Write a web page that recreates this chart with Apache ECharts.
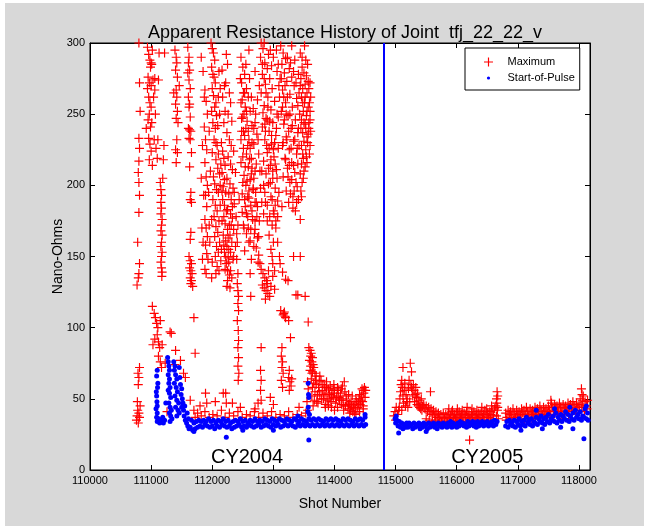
<!DOCTYPE html>
<html>
<head>
<meta charset="utf-8">
<title>Apparent Resistance History of Joint tfj_22_22_v</title>
<script src="https://cdn.jsdelivr.net/npm/echarts@6/dist/echarts.min.js"></script>
<style>
  html, body { margin: 0; padding: 0; background: #ffffff; }
  #frame { position: absolute; left: 5px; top: 3px; width: 639px; height: 523px; background: #d8d8d8; }
  #chart { position: absolute; left: 0; top: 0; width: 649px; height: 529px; }
</style>
</head>
<body>
<div id="frame"></div>
<div id="chart"></div>
<script>
// Axis ticks
const shotTicks = [110000, 111000, 112000, 113000, 114000, 115000, 116000, 117000, 118000];
const ohmTicks = [0, 50, 100, 150, 200, 250, 300];

// Campaign boundary (shot number) and campaign labels
const campaignBoundary = 114800;
const campaignLabels = [
  { name: 'CY2004', shot: 112570, value: 9 },
  { name: 'CY2005', shot: 116500, value: 9 }
];

// Maximum apparent resistance, CY2004 [shot, nano-ohms]
const maximum2004 = [
  [110760,35],[110770,38],[110780,42],[110790,33],[110800,40],[110810,37],[110820,45],[110775,48],
  [110790,60],[110800,65],[110810,72],[110785,68],[110770,130],[110790,135],[110800,138],[110810,145],
  [110780,160],[110800,181],[110810,193],[110800,202],[110790,209],[110800,217],[110810,226],[110800,233],
  [110820,252],[110810,272],[110800,300],
  [110940,297],[110960,292],[110980,288],[111000,286],[111010,285],[110990,283],[111020,295],[110950,276],
  [110970,272],[111000,270],[111030,274],[110940,268],[110960,262],[110980,258],[111000,255],[110970,250],
  [110950,246],[111010,244],[111040,262],[111060,267],[110990,241],[110960,233],[110980,229],[111000,224],
  [110970,218],[111020,214],[111050,232],[111080,226],[111100,219],[111060,275],[111110,232],[110920,240],
  [111130,293],[111120,274],[111070,250],
  [111020,115],[111050,110],[111070,107],[111090,103],[111110,100],[111100,95],[111060,92],[111120,90],
  [111030,88],[111140,86],[111150,105],[111120,80],[111150,76],[111170,72],[111180,88],
  [111150,202],[111160,197],[111170,193],[111160,188],[111170,184],[111160,180],[111180,176],[111170,172],
  [111160,168],[111180,165],[111170,160],[111160,157],[111180,153],[111170,150],[111160,146],[111170,142],
  [111180,139],[111175,136],[111190,205],[111200,218],[111210,228],[111220,293],
  [111390,295],[111410,290],[111420,286],[111400,281],[111430,276],[111410,267],[111420,262],[111400,257],
  [111430,252],[111410,247],[111440,244],[111420,232],[111400,225],[111430,223],[111410,216],[111460,270],
  [111370,265],
  [111330,96],[111400,84],[111480,77],[111390,74],[111530,68],[111560,65],[111640,49],[111700,42],
  [111720,37],[111260,41],[111310,97],[111230,75],
  [111600,297],[111620,290],[111610,286],[111630,281],[111600,279],[111620,274],[111640,268],[111610,262],
  [111630,257],[111620,255],[111640,248],[111610,240],[111630,239],[111650,238],[111620,233],[111640,232],
  [111660,223],[111630,213],[111650,195],[111640,190],[111660,188],[111650,167],[111640,162],
  [111620,150],[111640,147],[111660,145],[111630,142],[111650,140],[111670,138],[111640,135],[111660,133],
  [111650,131],[111680,129],[111700,107],[111720,82],
  [111880,267],[111900,259],[111870,241],[111890,232],[111910,225],[111880,216],[111900,206],[111920,200],
  [111890,193],[111910,185],[111880,176],[111900,170],[111920,164],[111890,158],[111910,152],[111930,148],
  [111880,141],[111900,138],[111850,160],[111830,170],[111950,172],[111940,195],[111890,54],[111910,47],
  [111820,290],[111850,280],[111870,262],[111920,250],[111950,238],[111840,228],[111970,210],[111990,176],
  [111960,160],[112000,146],[111990,135],[111840,148],[111860,193],[111820,205],
  [111980,300],[112000,296],[112020,293],[112040,288],[111990,283],[112010,278],[112030,276],[112050,272],
  [112000,268],[112020,263],[112060,258],[112040,255],[111990,252],[112070,249],[112010,244],[112050,240],
  [112030,232],[112080,228],[112000,223],[112060,218],[112090,212],[112020,206],[112040,201],[112070,197],
  [112100,195],[112010,190],[112050,186],[112080,182],[112030,178],[112110,175],[112060,171],[112090,167],
  [112040,164],[112120,160],[112070,157],[112100,153],[112050,150],[112140,147],[112080,143],[112110,140],
  [112060,138],[112150,155],
  [112060,230],[112090,242],[112120,250],[112100,222],[112130,200],[112160,175],[112190,158],[112220,150],
  [112250,140],[112270,155],[112290,165],[112310,172],[112330,185],[112360,195],[112390,178],[112410,160],
  [112400,148],
  [112150,230],[112170,224],[112190,219],[112210,214],[112160,209],[112200,204],[112180,199],[112220,195],
  [112170,190],[112200,186],[112230,182],[112190,178],[112210,173],[112250,169],[112180,165],[112220,161],
  [112240,157],[112200,153],[112260,149],[112230,145],[112210,141],[112280,137],[112250,133],[112240,129],
  [112270,146],[112160,196],[112130,186],[112120,208],[112140,215],[112300,140],[112320,135],[112340,148],
  [112190,244],[112210,252],[112170,262],[112200,270],[112160,281],[112130,268],[112100,262],[112110,280],
  [112230,292],[112250,285],[112220,272],[112280,265],[112300,258],[112260,250],[112320,245],[112240,237],
  [112280,232],[112310,228],[112350,224],[112260,220],[112300,215],[112330,211],[112380,209],[112240,205],
  [112290,201],[112340,198],[112270,194],[112310,190],[112360,187],[112250,183],[112300,180],[112330,177],
  [112280,172],[112350,169],[112400,166],[112260,163],[112320,160],[112380,157],[112300,153],[112350,150],
  [112420,172],[112440,190],
  [112420,138],[112410,131],[112420,126],[112430,122],[112420,117],[112430,112],[112410,105],[112425,98],
  [112430,91],[112420,86],[112430,79],[112420,73],[112435,68],[112425,63],[112290,128],[112220,54],
  [112230,47],[112330,47],
  [112470,290],[112500,283],[112530,278],[112480,272],[112560,268],[112510,265],[112590,262],[112470,258],
  [112540,255],[112620,252],[112500,248],[112570,245],[112650,242],[112480,238],[112530,235],[112600,232],
  [112680,229],[112510,226],[112560,222],[112640,219],[112470,216],[112590,213],[112700,210],[112520,207],
  [112620,204],[112550,200],[112670,197],[112490,194],[112600,191],[112720,188],[112540,185],[112650,182],
  [112580,178],[112700,175],[112510,172],[112630,169],[112560,166],[112740,163],[112600,160],[112680,157],
  [112530,154],[112760,151],[112640,148],[112620,138],[112630,122],[112700,169],[112760,164],
  [112460,275],[112490,260],[112520,250],[112550,240],[112580,228],[112610,218],[112640,208],[112670,198],
  [112700,188],[112730,178],[112480,247],[112510,238],[112540,213],[112570,203],[112600,196],[112630,186],
  [112660,176],[112690,166],[112720,156],[112750,146],[112500,220],[112530,190],[112560,180],[112590,170],
  [112620,161],[112650,230],[112680,240],[112710,250],[112740,260],[112770,270],[112550,285],[112600,295],
  [112700,280],[112750,232],[112720,215],
  [112470,232],[112500,202],[112530,265],[112560,252],[112590,238],[112620,226],[112650,212],[112680,205],
  [112710,195],[112740,185],[112770,175],[112490,181],[112520,170],[112580,192],[112610,275],[112640,262],
  [112670,254],[112700,244],[112730,236],[112760,222],[112780,210],[112790,198],
  [112800,300],[112830,296],[112790,290],[112860,286],[112900,282],[112820,278],[112940,275],[112870,271],
  [112980,268],[112800,265],[112910,262],[113020,259],[112850,256],[112960,253],[113060,250],[112880,247],
  [112990,244],[112820,241],[112930,238],[113040,235],[112860,232],[112970,229],[113080,226],[112900,223],
  [113010,220],[112840,217],[112950,214],[113050,211],[112880,208],[112990,205],[112920,201],[113030,198],
  [112860,195],[112960,192],[113070,189],[112900,186],[113000,182],[112940,178],[113040,175],[112980,172],
  [112820,285],[112850,275],[112880,265],[112910,255],[112940,245],[112970,235],[113000,225],[113030,215],
  [113060,205],[113090,195],[112830,251],[112860,243],[112890,228],[112920,212],[112950,202],[112980,190],
  [113010,180],[113040,170],[113070,160],[113100,150],[112810,210],[112840,200],[112870,188],[112900,175],
  [112930,165],[112960,155],[112990,145],[113020,140],[113050,295],[113080,285],[112920,292],[112970,284],
  [112810,188],[112840,180],[112870,238],[112900,246],[112930,226],[112960,218],[112990,210],[113020,230],
  [113050,240],[113080,248],[113100,262],[113110,275],[112850,300],[112950,295],[113000,290],[113060,280],
  [113090,270],[113030,186],[113070,178],
  [112800,141],[112830,138],[112860,135],[112890,133],[112820,130],[112850,128],[112880,126],[112910,124],
  [112940,122],[112870,120],[112900,131],[112960,129],[112990,136],[113020,127],[112920,140],[112780,145],
  [113000,160],[112980,150],
  [112800,86],[112790,70],[112800,63],[112790,56],[112800,49],[112950,51],[112750,47],
  [113120,298],[113160,293],[113200,289],[113140,285],[113260,282],[113180,279],[113300,276],[113220,273],
  [113340,270],[113150,267],[113270,264],[113380,261],[113200,258],[113310,255],[113130,252],[113240,249],
  [113360,246],[113170,243],[113290,240],[113400,237],[113210,234],[113330,231],[113150,228],[113260,225],
  [113380,222],[113190,219],[113300,216],[113230,212],[113350,209],[113160,206],[113270,202],[113390,199],
  [113210,196],[113320,192],[113250,188],[113140,185],[113360,182],
  [113130,275],[113170,262],[113210,250],[113250,238],[113290,226],[113330,214],[113370,202],[113410,190],
  [113160,230],[113200,218],[113240,206],[113280,194],[113320,184],[113230,290],[113300,298],[113350,288],
  [113410,278],[113420,265],[113430,250],[113410,240],[113420,228],[113400,215],[113440,208],
  [113150,255],[113180,246],[113220,232],[113260,214],[113300,204],[113340,196],[113380,188],[113190,270],
  [113230,262],[113270,250],[113310,242],[113350,232],[113390,226],[113280,286],[113330,280],[113370,272],
  [113400,256],
  [113110,145],[113150,139],[113200,134],[113120,112],[113160,109],[113200,107],[113180,111],[113250,105],
  [113140,86],[113130,80],[113150,76],[113140,72],[113160,68],[113130,63],[113150,58],[113250,65],
  [113270,62],[113290,59],[113260,56],[113300,64],[113280,93],[113240,133],[113370,123],[113400,123],
  [113330,150],[113260,70],[113170,110],[113190,108],
  [113440,293],[113470,283],[113500,279],[113450,275],[113520,271],[113480,268],[113550,265],[113460,262],
  [113510,258],[113570,255],[113490,252],[113540,249],[113460,246],[113520,243],[113580,240],[113480,237],
  [113550,234],[113500,231],[113460,228],[113530,225],[113590,222],[113490,219],[113550,216],[113470,202],
  [113450,196],[113460,192],[113440,176],[113440,150],[113520,122],[113570,104],
  [113480,258],[113500,244],[113520,262],[113540,277],[113560,285],[113580,268],[113600,252],[113610,238],
  [113600,228],[113500,210],[113530,240],[113560,230],[113580,244],[113590,258],[113470,290],[113510,298],
  [113480,222],[113520,213],[113550,252],[113570,273],[113440,270],
  [113460,215],[113490,205],[113540,220],[113570,236],[113600,246],[113610,262],[113600,272],[113450,240],
  [113530,288],
  [113580,86],[113600,84],[113620,82],[113610,80],[113640,79],[113590,77],[113630,76],[113650,74],
  [113610,73],[113660,72],[113600,70],[113640,69],[113680,68],[113560,62],[113570,57],[113550,48],
  [113560,42],
  [113620,64],[113640,58],[113660,61],[113680,55],[113700,60],[113720,53],[113740,58],[113760,52],
  [113780,63],[113800,56],[113820,50],[113840,59],[113860,54],[113880,49],[113900,57],[113920,53],
  [113940,48],[113960,56],[113980,51],[114000,54],[114020,47],[114040,52],[114060,56],[114080,49],
  [114100,54],[114120,46],[114140,50],[114160,62],[114180,45],[114200,49],[114220,43],[114240,47],
  [114260,42],[114280,45],[114300,41],[114320,46],[114340,43],[114360,48],[114380,44],[114400,50],
  [114420,46],[114440,52],[114460,48],[114480,54],[114500,51],[114510,56],[113650,45],[113730,47],
  [113850,44],[114000,42],[113700,66],[113760,66],[113900,45],[114450,57],
  [113630,52],[113670,49],[113710,48],[113750,55],[113790,50],[113830,53],[113870,58],[113910,50],
  [113950,52],[113990,57],[114030,50],[114070,51],[114110,49],[114150,45],[114190,52],[114230,46],
  [114270,48],[114310,44],[114350,40],[114390,47],[114430,49],[114470,45],[114490,58],
  [113630,68],[113690,63],[113750,62],[113810,60],[113870,62],[113930,59],[113990,60],[114050,58],
  [114110,57],[114170,55],[114230,53],[114290,52],[114350,50],[114410,53],[114470,56],[114130,59],
  [113850,46],[113950,44],[114050,44],[114150,42],[114250,40],[114330,39],[114410,41],[114470,43],
  [111760,40],[111820,38],[111880,41],[111950,37],[112010,39],[112080,38],[112150,42],[112210,37],
  [112280,40],[112350,38],[112420,41],[112490,37],[112560,39],[112620,38],[112690,41],[112760,37],
  [112830,40],[112900,38],[112970,41],[113040,37],[113110,39],[113180,38],[113250,41],[113320,37],
  [113390,39],[113460,38],[113530,40],[111800,45],[112050,48],[112180,54],[112460,44],[112700,43],
  [113000,46],[113420,44]
];

// Maximum apparent resistance, CY2005 [shot, nano-ohms]
const maximum2005 = [
  [114970,38],[114990,41],[115000,35],[115010,44],[115030,39],[115050,42],
  [115070,50],[115080,55],[115090,60],[115100,63],[115110,58],[115120,52],[115130,47],[115140,56],
  [115150,61],[115160,45],[115170,53],[115180,48],[115100,42],[115120,72],[115060,44],
  [115190,50],[115210,57],[115220,63],[115230,48],[115200,44],[115290,60],[115330,58],[115370,45],
  [115410,43],
  [115240,75],[115260,69],[115250,60],[115270,56],[115280,52],[115260,58],
  [115300,56],[115320,53],[115340,51],[115360,54],[115380,49],[115400,47],[115420,50],[115440,45],
  [115310,48],[115350,46],[115390,44],[115430,42],
  [115460,46],[115480,43],[115500,45],[115520,41],[115540,44],[115560,40],[115580,43],[115600,39],
  [115620,42],[115640,38],[115660,41],[115680,37],[115700,40],[115720,36],[115740,39],[115760,37],
  [115780,40],[115800,36],[115820,39],[115840,37],[115570,55],
  [115860,40],[115880,36],[115900,38],[115920,41],[115940,37],[115960,39],[115980,36],[116000,40],
  [116020,38],[116040,41],[116060,37],[116080,39],[116100,36],[116120,40],[116140,38],[116160,41],
  [116180,37],[116200,39],[116220,36],[116240,40],[116260,38],[116280,41],[116300,37],[116320,39],
  [116340,36],[116360,40],[116380,38],[116400,41],[116420,37],[116440,39],[116460,42],[116480,38],
  [116500,40],[116520,37],[116540,41],[116560,39],[116580,42],[116600,38],[116620,43],[116210,21],
  [115500,36],[115550,35],[115600,34],[115650,35],[115700,33],[115750,34],[115800,35],[115850,34],
  [115900,33],[115950,35],[116000,34],[116050,35],[116100,33],[116150,34],[116200,35],[116250,34],
  [116300,33],[116350,35],[116400,34],[116450,35],[116500,34],[116550,36],[116600,35],
  [115870,43],[115930,42],[116010,43],[116090,42],[116170,44],[116250,43],[116330,42],[116410,44],
  [116490,43],[116570,45],
  [116640,45],[116650,50],[116660,55],[116670,52],[116655,47],[116665,42],[116650,38],[116670,44],
  [116680,36],
  [116800,40],[116820,37],[116840,42],[116860,39],[116880,41],[116900,38],[116920,43],[116940,40],
  [116960,37],[116980,42],[117000,39],[117020,41],[117040,38],[117060,43],[117080,40],[117100,42],
  [117120,39],[117140,44],[117160,41],[117180,38],[117200,43],[117220,40],[117240,42],[117260,39],
  [117280,44],[117300,41],[117320,43],[117340,40],[117360,45],[117380,42],[117400,39],[117420,44],
  [117440,41],[117460,43],[117480,40],[117500,45],[117520,42],[117540,49],[117550,47],[117560,44],
  [117580,41],[117600,46],[117620,43],[117640,45],[117660,42],[117680,47],[117700,44],[117720,41],
  [117740,46],[117760,43],[117780,45],[117800,42],[117820,47],[117840,44],[117860,46],[117880,43],
  [117900,48],[117920,45],[117940,42],[117960,47],[117980,44],[118000,46],[118020,50],
  [116810,35],[116870,36],[116930,35],[116990,37],[117050,36],[117110,35],[117170,37],[117230,36],
  [117290,38],[117350,37],[117410,38],[117470,37],[117530,39],[117590,38],[117650,40],[117710,39],
  [117770,40],[117830,39],[117890,41],[117950,40],[118010,42],[118090,41],[118130,43],
  [118040,57],[118050,53],[118060,49],[118045,45],[118070,52],[118100,48],[118120,45],[118140,49],
  [118080,44]
];

// Start-of-pulse apparent resistance, CY2004 [shot, nano-ohms]
const startOfPulse2004 = [
  [111090,52],[111095,48],[111100,45],[111085,55],[111100,40],[111090,37],[111100,34],[111110,36],
  [111080,43],[111100,70],[111090,66],[111110,61],[111105,58],[111120,36],[111140,33],[111150,35],
  [111170,34],[111190,37],[111200,33],[111220,35],[111240,47],
  [111270,79],[111280,76],[111290,73],[111300,70],[111280,67],[111300,64],[111290,61],[111310,58],
  [111280,56],[111300,54],[111320,51],[111290,47],[111310,44],[111330,42],[111300,40],[111320,38],
  [111340,36],[111310,34],
  [111370,76],[111390,73],[111380,70],[111400,67],[111420,64],[111380,61],[111410,58],[111430,55],
  [111390,52],[111420,49],[111450,47],[111400,44],[111440,42],[111460,40],[111420,38],[111470,65],
  [111460,72],[111480,60],[111500,57],[111490,53],[111510,50],[111520,47],[111500,44],[111530,42],
  [111550,45],[111540,38],[111560,35],[111580,33],[111600,31],[111620,29],[111610,36],[111590,40],
  [111640,30],[111680,28],[111720,29],[111760,30],[111800,31],[111840,30],[111880,32],[111920,31],
  [111960,30],[112000,31],[112040,29],[112080,31],[112120,30],[112160,32],[112200,31],[112240,30],
  [112280,31],[112320,29],[112360,30],[112400,31],[112440,32],[112480,30],[112520,31],[112560,30],
  [112600,32],[112640,31],[112680,30],[112720,31],[112760,32],[112800,30],[112840,31],[112880,32],
  [112920,31],[112960,30],[113000,32],[113040,31],[113080,32],[113120,30],[113160,31],[113200,32],
  [113240,31],[113280,32],[113320,31],[113360,30],[113400,32],[113440,31],[113480,32],[113520,31],
  [113560,32],[113600,31],[113640,32],[113680,31],[113720,32],[113760,31],[113800,32],[113840,31],
  [113880,32],[113920,31],[113960,32],[114000,31],[114040,32],[114080,31],[114120,32],[114160,31],
  [114200,32],[114240,31],[114280,32],[114320,31],[114360,32],[114400,31],[114440,32],[114480,31],
  [114510,32],
  [111660,35],[111700,33],[111740,34],[111780,35],[111820,34],[111860,35],[111900,34],[111940,36],
  [111980,34],[112020,35],[112060,33],[112100,35],[112140,34],[112180,36],[112220,34],[112260,35],
  [112300,33],[112340,34],[112380,35],[112420,34],[112460,36],[112500,34],[112540,35],[112580,33],
  [112620,35],[112660,34],[112700,36],[112740,34],[112780,35],[112820,34],[112860,36],[112900,35],
  [112940,34],[112980,36],[113020,35],[113060,34],[113100,36],[113140,35],[113180,34],[113220,36],
  [113260,35],[113300,34],[113340,36],[113380,35],[113420,34],[113460,36],[113500,35],[113540,34],
  [113580,36],[113620,35],[113660,36],[113700,35],[113740,36],[113780,35],[113820,34],[113860,36],
  [113900,35],[113940,36],[113980,35],[114020,36],[114060,35],[114100,34],[114140,36],[114180,35],
  [114220,36],[114260,35],[114300,34],[114340,36],[114380,35],[114420,36],[114460,35],[114500,37],
  [112230,23],[113580,21],[113570,61],[113575,53],[113580,51],[113570,44],[113565,41],[113590,39],
  [113400,38],[114500,39],[111700,27],[112500,28],[113000,28]
];

// Start-of-pulse apparent resistance, CY2005 [shot, nano-ohms]
const startOfPulse2005 = [
  [114990,36],[115000,33],[115010,38],[115020,35],[115040,31],[115060,34],[115080,30],[115100,33],
  [115120,29],[115140,32],[115160,30],[115180,33],
  [115200,30],[115240,31],[115280,29],[115320,30],[115360,31],[115400,29],[115440,30],[115480,31],
  [115520,29],[115560,30],[115600,31],[115640,30],[115680,29],[115720,31],[115760,30],[115800,31],
  [115840,30],[115880,31],[115920,30],[115960,31],[116000,30],[116040,31],[116080,32],[116120,31],
  [116160,30],[116200,31],[116240,32],[116280,31],[116320,30],[116360,31],[116400,32],[116440,31],
  [116480,32],[116520,31],[116560,32],[116600,31],[116640,32],
  [115220,33],[115260,32],[115300,33],[115340,32],[115380,33],[115420,32],[115460,33],[115500,32],
  [115540,33],[115580,32],[115620,33],[115660,32],[115700,33],[115740,32],[115780,33],[115820,32],
  [115860,33],[115900,34],[115940,33],[115980,32],[116020,33],[116060,34],[116100,33],[116140,32],
  [116180,34],[116220,33],[116260,34],[116300,33],[116340,34],[116380,33],[116420,34],[116460,33],
  [116500,34],[116540,33],[116580,34],[116620,35],[116660,34],
  [115050,26],[115500,27],
  [116800,31],[116840,30],[116880,32],[116920,31],[116960,30],[117000,32],[117040,31],[117080,32],
  [117120,31],[117160,33],[117200,32],[117240,31],[117280,33],[117320,32],[117360,34],[117400,33],
  [117440,32],[117480,34],[117520,33],[117560,35],[117600,34],[117640,33],[117680,35],[117720,34],
  [117760,36],[117800,35],[117840,34],[117880,36],[117920,35],[117960,37],[118000,36],[118040,35],
  [118080,37],[118120,36],[118150,35],
  [116820,34],[116860,35],[116900,33],[116940,35],[116980,34],[117020,36],[117060,34],[117100,35],
  [117140,37],[117180,35],[117220,36],[117260,34],[117300,37],[117340,36],[117380,38],[117420,36],
  [117460,37],[117500,39],[117540,36],[117580,38],[117620,40],[117660,37],[117700,39],[117740,38],
  [117780,41],[117820,39],[117860,38],[117900,40],[117940,42],[117980,39],[118020,41],[118060,38],
  [118100,43],[118140,40],
  [117050,28],[117400,29],[117700,30],[117900,29],[118080,22],[117300,42],[117600,43],[117850,44],
  [118120,45]
];

const FONT = '"Liberation Sans", Arial, sans-serif';
// plus marker with slightly heavier strokes
const PLUS = 'path://M4.35 0h1.3v4.35h4.35v1.3h-4.35v4.35h-1.3v-4.35h-4.35v-1.3h4.35z';
// small dot centred in a 9x9 box for the legend
const DOT_ICON = 'path://M0 0M9 9M4.5 2.9a1.6 1.6 0 1 0 0.001 0z';

const chart = echarts.init(document.getElementById('chart'), null, { renderer: 'canvas' });

const xMin = shotTicks[0];
const xMax = 118180;
const yMin = ohmTicks[0];
const yMax = ohmTicks[ohmTicks.length - 1];

function xAxisDef(showLabels) {
  return {
    type: 'value', min: xMin, max: xMax, interval: 1000,
    position: showLabels ? 'bottom' : 'top',
    name: showLabels ? 'Shot Number' : '',
    nameLocation: 'middle', nameGap: 27, nameMoveOverlap: false,
    nameTextStyle: { fontFamily: FONT, fontSize: 14, color: '#000' },
    axisLine: { show: true, onZero: false, lineStyle: { color: '#000', width: 1 } },
    axisTick: { show: true, inside: true, length: 5, lineStyle: { color: '#000' } },
    axisLabel: { show: showLabels, showMaxLabel: false, margin: 5, fontFamily: FONT, fontSize: 11,
                 color: '#000', formatter: v => String(v) },
    splitLine: { show: false }
  };
}
function yAxisDef(showLabels) {
  return {
    type: 'value', min: yMin, max: yMax, interval: 50,
    position: showLabels ? 'left' : 'right',
    name: showLabels ? 'Nano-Ohms' : '',
    nameLocation: 'middle', nameGap: 25, nameMoveOverlap: false,
    nameTextStyle: { fontFamily: FONT, fontSize: 14, color: '#000' },
    axisLine: { show: true, onZero: false, lineStyle: { color: '#000', width: 1 } },
    axisTick: { show: true, inside: true, length: 5, lineStyle: { color: '#000' } },
    axisLabel: { show: showLabels, margin: 5, fontFamily: FONT, fontSize: 11, color: '#000',
                 formatter: v => String(v) },
    splitLine: { show: false }
  };
}

chart.setOption({
  animation: false,
  backgroundColor: 'transparent',
  title: {
    text: 'Apparent Resistance History of Joint  tfj_22_22_v',
    left: 340, top: 19, textAlign: 'center',
    textStyle: { fontFamily: FONT, fontSize: 18, fontWeight: 'normal', color: '#000' }
  },
  legend: {
    orient: 'vertical', left: 465, top: 48,
    padding: [6, 5, 4, 19], itemGap: 0,
    itemWidth: 28, itemHeight: 9,
    backgroundColor: '#fff', borderColor: '#000', borderWidth: 1, borderRadius: 0,
    textStyle: { fontFamily: FONT, fontSize: 11, color: '#000', lineHeight: 16 },
    data: [
      { name: 'Maximum', icon: PLUS },
      { name: 'Start-of-Pulse', icon: DOT_ICON }
    ]
  },
  grid: {
    left: 90, right: 59, top: 43, bottom: 59,
    show: true, backgroundColor: '#fff', borderColor: '#000', borderWidth: 1
  },
  xAxis: [xAxisDef(true), xAxisDef(false)],
  yAxis: [yAxisDef(true), yAxisDef(false)],
  series: [
    {
      name: 'Maximum', type: 'scatter', xAxisIndex: 0, yAxisIndex: 0,
      symbol: PLUS, symbolSize: 9,
      itemStyle: { color: '#ff0000', opacity: 1 },
      data: maximum2004.concat(maximum2005),
      markLine: {
        silent: true, symbol: ['none', 'none'],
        label: { show: false },
        lineStyle: { color: '#0000ff', width: 2, type: 'solid' },
        data: [{ xAxis: campaignBoundary }]
      }
    },
    {
      name: 'Start-of-Pulse', type: 'scatter', xAxisIndex: 0, yAxisIndex: 0,
      symbol: 'circle', symbolSize: 5,
      itemStyle: { color: '#0000ff', opacity: 1 },
      data: startOfPulse2004.concat(startOfPulse2005),
      markPoint: {
        silent: true,
        symbol: 'rect', symbolSize: 1,
        itemStyle: { color: 'rgba(0,0,0,0)' },
        label: { show: true, position: 'inside', fontFamily: FONT, fontSize: 20, color: '#000',
                 formatter: p => p.name },
        data: campaignLabels.map(c => ({ name: c.name, coord: [c.shot, c.value] }))
      }
    }
  ]
});
</script>
</body>
</html>
